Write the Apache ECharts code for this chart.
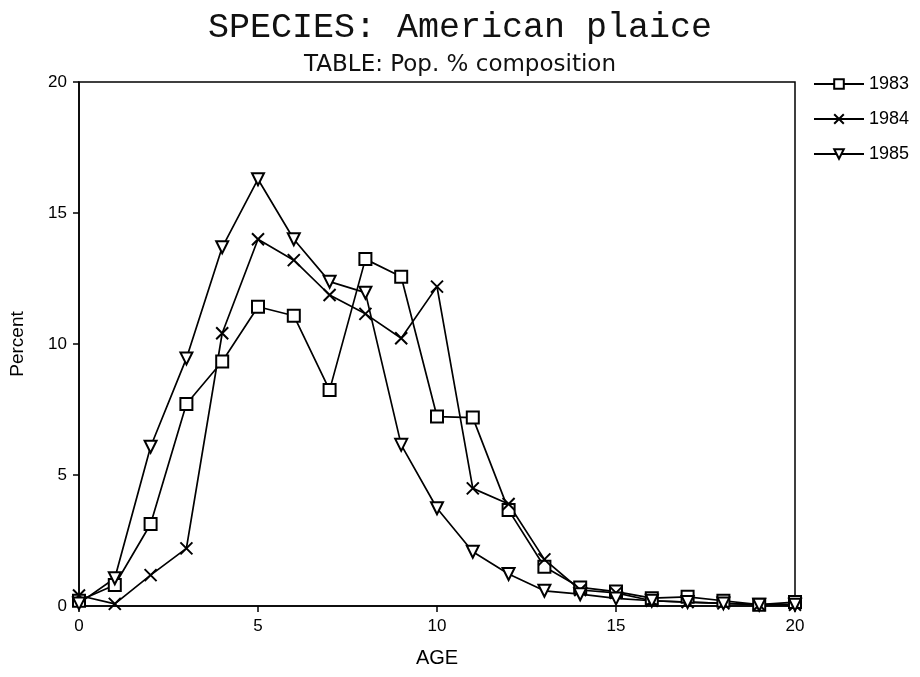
<!DOCTYPE html>
<html>
<head>
<meta charset="utf-8">
<script src="https://cdn.jsdelivr.net/npm/echarts@6/dist/echarts.min.js"></script>
<style>html,body{margin:0;padding:0;background:#fff}#c{width:920px;height:677px}</style>
</head>
<body>
<div id="c"></div>
<script>
var ages = [0,1,2,3,4,5,6,7,8,9,10,11,12,13,14,15,16,17,18,19,20];
var y1983 = [0.2,0.8,3.13,7.71,9.33,11.42,11.08,8.24,13.24,12.57,7.23,7.19,3.66,1.5,0.71,0.55,0.3,0.35,0.2,0.05,0.15];
var y1984 = [0.4,0.08,1.18,2.2,10.41,14.0,13.2,11.87,11.15,10.22,12.19,4.49,3.89,1.78,0.61,0.5,0.2,0.15,0.1,0.05,0.05];
var y1985 = [0.1,1.06,6.08,9.45,13.69,16.29,14.0,12.38,11.96,6.15,3.73,2.07,1.22,0.58,0.45,0.29,0.2,0.15,0.1,0.05,0.05];
var seriesNames = ['1983','1984','1985'];
var yTicks = [0,5,10,15,20];
var xTicks = [0,5,10,15,20];

function pairs(v){ return ages.map(function(a,i){ return [a, v[i]]; }); }

var chart = echarts.init(document.getElementById('c'), null, {renderer:'canvas'});
var lineStyle = {color:'#000', width:1.7};
var common = {type:'line', lineStyle:lineStyle, z:3};
chart.setOption({
  animation:false,
  backgroundColor:'#fff',
  title:[
    {text:'SPECIES: American plaice', left:'center', top:5,
     textStyle:{fontFamily:'Liberation Mono', fontSize:35, fontWeight:'normal', color:'#111'}},
    {text:'TABLE: Pop. % composition', left:'center', top:49,
     textStyle:{fontFamily:'DejaVu Sans', fontSize:23, fontWeight:'normal', color:'#111'}}
  ],
  legend:{
    orient:'vertical', left:808, top:70, itemWidth:50, itemHeight:12, itemGap:17,
    textStyle:{fontFamily:'Liberation Sans', fontSize:18, color:'#000'},
    data:seriesNames
  },
  grid:{left:76, right:125, top:82, bottom:71, show:true, borderColor:'#000', borderWidth:1.5, backgroundColor:'#fff'},
  xAxis:{
    type:'value', min:0, max:20, interval:5,
    name:'AGE', nameLocation:'middle', nameGap:42,
    nameTextStyle:{fontFamily:'Liberation Sans', fontSize:20, color:'#000'},
    axisLine:{show:true, lineStyle:{color:'#000', width:1.5}},
    axisTick:{show:true, length:6, inside:false, lineStyle:{color:'#000', width:1.5}},
    axisLabel:{fontFamily:'Liberation Sans', fontSize:17, color:'#000', margin:12,
      formatter:function(v){ return xTicks.indexOf(v)>=0 ? String(v) : ''; }},
    splitLine:{show:false}
  },
  yAxis:{
    type:'value', min:0, max:20, interval:5,
    name:'Percent', nameLocation:'middle', nameGap:52,
    nameTextStyle:{fontFamily:'Liberation Sans', fontSize:19, color:'#000'},
    axisLine:{show:true, lineStyle:{color:'#000', width:1.5}},
    axisTick:{show:true, length:6, inside:false, lineStyle:{color:'#000', width:1.5}},
    axisLabel:{fontFamily:'Liberation Sans', fontSize:17, color:'#000', margin:12,
      formatter:function(v){ return yTicks.indexOf(v)>=0 ? String(v) : ''; }},
    splitLine:{show:false}
  },
  series:[
    Object.assign({}, common, {name:seriesNames[0], data:pairs(y1983),
      symbol:'emptyRect', symbolSize:12,
      itemStyle:{color:'#000', borderColor:'#000', borderWidth:2}}),
    Object.assign({}, common, {name:seriesNames[1], data:pairs(y1984),
      symbol:'path://M0,0L10,10M10,0L0,10', symbolSize:12,
      itemStyle:{color:'#000', borderColor:'#000', borderWidth:2}}),
    Object.assign({}, common, {name:seriesNames[2], data:pairs(y1985),
      symbol:'emptyTriangle', symbolSize:12, symbolRotate:180,
      itemStyle:{color:'#000', borderColor:'#000', borderWidth:2}})
  ]
});
</script>
</body>
</html>
